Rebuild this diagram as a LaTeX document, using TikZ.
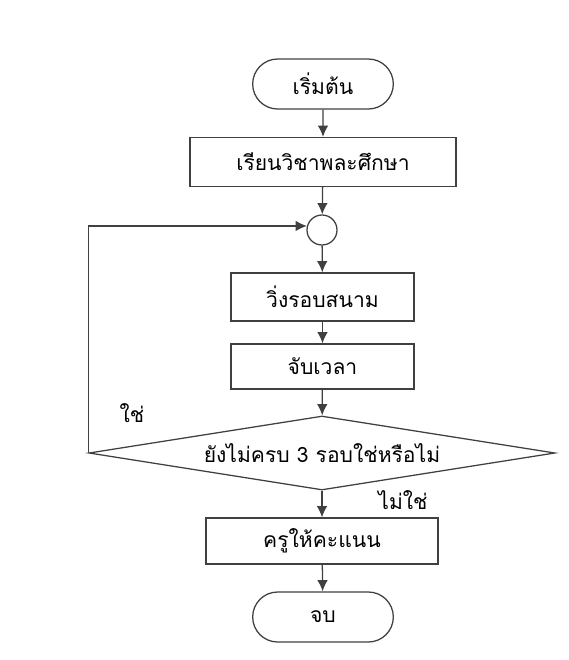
\documentclass[tikz,border=0pt]{standalone}
\usepackage{fontspec}
\newfontfamily\thaifont[Script=Thai]{Loma}
\usetikzlibrary{shapes.geometric, shapes.misc, arrows.meta}

\begin{document}
\begin{tikzpicture}[x=0.025cm, y=-0.025cm,
    line/.style={draw=black!75, line width=0.9pt},
    arr/.style={line, -{Latex[length=8pt, width=7.5pt]}},
    txt/.style={font=\thaifont\fontsize{15}{18}\selectfont, text=black},
    term/.style={line, txt, rounded rectangle, minimum width=3.75cm, minimum height=1.25cm},
    proc/.style={line, txt, rectangle, inner sep=0pt},
    decide/.style={line, txt, diamond, inner sep=0pt, aspect=6.3, minimum width=11.65cm, minimum height=1.85cm}]

    \useasboundingbox (0,0) rectangle (568,660);

    % Draw nodes
    \node[term] (start) at (323,84) {เริ่มต้น};
    \node[proc, minimum width=6.65cm, minimum height=1.225cm] (study) at (323,162) {เรียนวิชาพละศึกษา};
    \node[line, circle, minimum size=0.75cm, inner sep=0pt] (join) at (322,230) {};
    \node[proc, minimum width=4.575cm, minimum height=1.2cm] (run) at (322.5,297) {วิ่งรอบสนาม};
    \node[proc, minimum width=4.575cm, minimum height=1.125cm] (time) at (322.5,366.5) {จับเวลา};
    \node[decide] (check) at (322,453) {ยังไม่ครบ 3 รอบใช่หรือไม่};
    \node[proc, minimum width=5.8cm, minimum height=1.15cm] (score) at (322,541) {ครูให้คะแนน};
    \node[term] (stop) at (323,617) {จบ};

    % Draw connectors
    \draw[arr] (start) -- (study);
    \draw[arr] (study) -- (join);
    \draw[arr] (join) -- (run);
    \draw[arr] (run) -- (time);
    \draw[arr] (time) -- (check);
    \draw[arr] (check) -- (score);
    \draw[arr] (score) -- (stop);
    \draw[arr] (check.west) |- (join.165);

    % Draw labels
    \node[txt] (yes) at (132,413) {ใช่};
    \node[txt] (no) at (403,500) {ไม่ใช่};
\end{tikzpicture}
\end{document}
